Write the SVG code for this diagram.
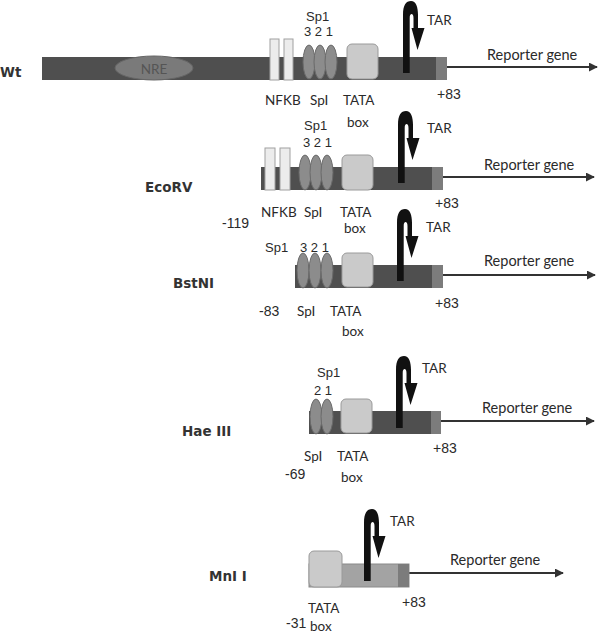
<svg xmlns="http://www.w3.org/2000/svg" xmlns:xlink="http://www.w3.org/1999/xlink" width="600" height="635" viewBox="0 0 600 635">
<style>
.bar{fill:#4f4f4f}
.bar2{fill:#a3a3a3;stroke:#8a8a8a;stroke-width:1}
.end{fill:#7c7c7c}
.sp{fill:#8c8c8c;stroke:#6a6a6a;stroke-width:1}
.nf{fill:#ececec;stroke:#a0a0a0;stroke-width:1}
.tata{fill:#cacaca;stroke:#9a9a9a;stroke-width:1}
.nre{fill:#7a7a7a;stroke:#666;stroke-width:1}
.ln{stroke:#333;stroke-width:2;fill:none}
.t{font-family:Lato,"Open Sans",sans-serif;font-size:13.5px;fill:#2a2a2a}
.a{font-family:"Liberation Sans",Arial,sans-serif;font-size:13px;fill:#2a2a2a}
.b{font-family:"DejaVu Sans",Verdana,sans-serif;font-weight:bold;font-size:13.5px;fill:#333}
.rg{font-family:Lato,"Open Sans",sans-serif;font-size:14.5px;fill:#2a2a2a}
</style>
<defs>
<marker id="ah" viewBox="0 0 10 10" refX="9" refY="5" markerWidth="4.5" markerHeight="4.5" orient="auto" markerUnits="strokeWidth">
<path d="M0,0 L10,5 L0,10 Z" fill="#333"/>
</marker>
<path id="tar" d="M0,0 L0,-58 C0,-68 3,-72 8,-72 C13,-72 15,-66 15,-58 L15,-45 L21.5,-45 L14.5,-23 L8.5,-45 L10.5,-45 L10.5,-55 C10.5,-58 9.5,-59 8.7,-59 C7.5,-59 6.7,-58 6.7,-55 L6.7,0 Z" fill="#111"/>
</defs>

<g id="connectors">
<line class="ln" x1="447" y1="67" x2="597" y2="67" marker-end="url(#ah)"/>
<line class="ln" x1="443" y1="177" x2="594" y2="177" marker-end="url(#ah)"/>
<line class="ln" x1="443" y1="275" x2="595" y2="275" marker-end="url(#ah)"/>
<line class="ln" x1="441" y1="421" x2="594" y2="421" marker-end="url(#ah)"/>
<line class="ln" x1="409" y1="573" x2="563" y2="573" marker-end="url(#ah)"/>
</g>

<g id="wt">
<rect class="bar" x="42" y="57" width="405" height="23"/>
<ellipse class="nre" cx="154" cy="68" rx="39" ry="12"/>
<text class="t" x="154" y="74" text-anchor="middle" style="fill:#555">NRE</text>
<rect class="nf" x="270" y="39" width="9" height="41"/>
<rect class="nf" x="284" y="39" width="9" height="41"/>
<ellipse class="sp" cx="309" cy="62" rx="6" ry="17"/>
<ellipse class="sp" cx="320" cy="62" rx="6" ry="17"/>
<ellipse class="sp" cx="331" cy="62" rx="6" ry="17"/>
<rect class="tata" x="347" y="44" width="31" height="35" rx="5"/>
<rect class="end" x="436" y="57" width="11" height="23"/>
<use xlink:href="#tar" x="403" y="73"/>
<text class="b" x="0" y="77">Wt</text>
<text class="a" x="306" y="21">Sp1</text>
<text class="a" x="304" y="36">3 2 1</text>
<text class="t" x="427" y="25">TAR</text>
<text class="rg" x="487" y="60">Reporter gene</text>
<text class="t" x="265" y="105">NFKB</text>
<text class="t" x="310" y="105">SpI</text>
<text class="t" x="343" y="105">TATA</text>
<text class="t" x="347" y="127">box</text>
<text class="a" x="437" y="99" style="font-size:14px">+83</text>
</g>

<g id="ecorv">
<rect class="bar" x="261" y="167" width="182" height="23"/>
<rect class="nf" x="265" y="148" width="10" height="42"/>
<rect class="nf" x="280" y="148" width="10" height="42"/>
<ellipse class="sp" cx="305" cy="172.5" rx="6" ry="17.5"/>
<ellipse class="sp" cx="316" cy="172.5" rx="6" ry="17.5"/>
<ellipse class="sp" cx="327" cy="172.5" rx="6" ry="17.5"/>
<rect class="tata" x="342" y="155" width="31" height="35" rx="5"/>
<rect class="end" x="432" y="167" width="11" height="23"/>
<use xlink:href="#tar" x="398" y="183"/>
<text class="b" x="145" y="192">EcoRV</text>
<text class="a" x="304" y="130">Sp1</text>
<text class="a" x="303" y="147">3 2 1</text>
<text class="t" x="427" y="133">TAR</text>
<text class="rg" x="484" y="170">Reporter gene</text>
<text class="t" x="261" y="217">NFKB</text>
<text class="t" x="304" y="217">SpI</text>
<text class="t" x="340" y="217">TATA</text>
<text class="t" x="344" y="233">box</text>
<text class="a" x="222" y="228" style="font-size:14px">-119</text>
<text class="a" x="435" y="208" style="font-size:14px">+83</text>
</g>

<g id="bstni">
<rect class="bar" x="295" y="265" width="148" height="23"/>
<ellipse class="sp" cx="303" cy="270.5" rx="6" ry="17.5"/>
<ellipse class="sp" cx="315" cy="270.5" rx="6" ry="17.5"/>
<ellipse class="sp" cx="327" cy="270.5" rx="6" ry="17.5"/>
<rect class="tata" x="342" y="253" width="31" height="34" rx="5"/>
<rect class="end" x="432" y="265" width="11" height="23"/>
<use xlink:href="#tar" x="397" y="281"/>
<text class="b" x="173" y="288">BstNI</text>
<text class="a" x="265" y="252">Sp1</text>
<text class="a" x="300" y="252">3 2 1</text>
<text class="t" x="426" y="232">TAR</text>
<text class="rg" x="484" y="266">Reporter gene</text>
<text class="a" x="259" y="316" style="font-size:14px">-83</text>
<text class="t" x="297" y="316">SpI</text>
<text class="t" x="330" y="316">TATA</text>
<text class="t" x="342" y="336">box</text>
<text class="a" x="435" y="308" style="font-size:14px">+83</text>
</g>

<g id="haeiii">
<rect class="bar" x="309" y="411" width="132" height="23"/>
<ellipse class="sp" cx="316" cy="416.5" rx="6" ry="17.5"/>
<ellipse class="sp" cx="327" cy="416.5" rx="6" ry="17.5"/>
<rect class="tata" x="341" y="399" width="31" height="34" rx="5"/>
<rect class="end" x="431" y="411" width="10" height="23"/>
<use xlink:href="#tar" x="396" y="428"/>
<text class="b" x="182" y="436">Hae III</text>
<text class="a" x="317" y="377">Sp1</text>
<text class="a" x="314" y="395">2 1</text>
<text class="t" x="422" y="373">TAR</text>
<text class="rg" x="482" y="413">Reporter gene</text>
<text class="t" x="304" y="461">SpI</text>
<text class="t" x="337" y="461">TATA</text>
<text class="a" x="285" y="479" style="font-size:14px">-69</text>
<text class="t" x="341" y="482">box</text>
<text class="a" x="433" y="453" style="font-size:14px">+83</text>
</g>

<g id="mnli">
<rect class="bar2" x="309" y="564" width="100" height="23"/>
<rect class="tata" x="309" y="551" width="33" height="36" rx="5"/>
<rect class="end" x="398" y="564" width="11" height="23"/>
<use xlink:href="#tar" x="364" y="581"/>
<text class="b" x="209" y="581">MnI I</text>
<text class="t" x="390" y="526">TAR</text>
<text class="rg" x="450" y="565">Reporter gene</text>
<text class="t" x="308" y="613">TATA</text>
<text class="a" x="286" y="628" style="font-size:14px">-31</text>
<text class="t" x="310" y="631">box</text>
<text class="a" x="402" y="607" style="font-size:14px">+83</text>
</g>
</svg>
